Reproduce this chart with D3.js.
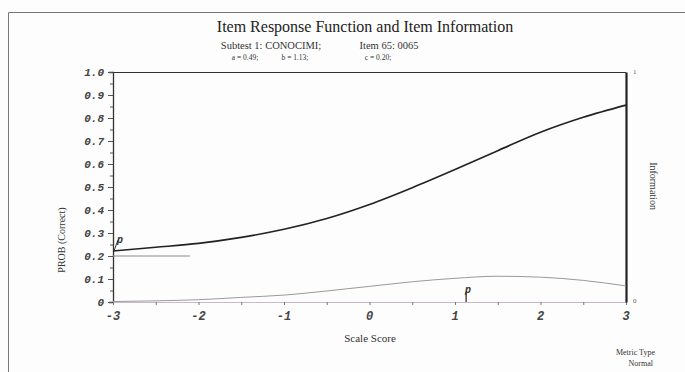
<!DOCTYPE html>
<html>
<head>
<meta charset="utf-8">
<script src="https://cdn.jsdelivr.net/npm/d3@7"></script>
<style>
  body { margin: 0; background: #fdfdfd; }
  svg { display: block; }
</style>
</head>
<body>
<svg id="chart"></svg>
<script>
'use strict';

// values
var theta = [-3, -2.5, -2, -1.5, -1, -0.5, 0, 0.5, 1, 1.5, 2, 2.5, 3];
var probCorrect = [0.222, 0.238, 0.255, 0.281, 0.316, 0.363, 0.424, 0.497, 0.576, 0.658, 0.738, 0.803, 0.856];
var information = [0.002, 0.005, 0.01, 0.02, 0.03, 0.048, 0.068, 0.088, 0.103, 0.112, 0.108, 0.094, 0.07];
var yTicks = ['0', '0.1', '0.2', '0.3', '0.4', '0.5', '0.6', '0.7', '0.8', '0.9', '1.0'];
var xTicks = [-3, -2, -1, 0, 1, 2, 3];
var guessLine = [-3, -2.1];   // lower asymptote, c = 0.20
var cParam = 0.2, bParam = 1.13;

var W = 685, H = 372;
var margin = { top: 72, right: 59, bottom: 70, left: 113 };
var width = W - margin.left - margin.right,
  height = H - margin.top - margin.bottom;

var svgRoot = d3.select('#chart').attr('width', W).attr('height', H);

// outer frame of the scanned page
svgRoot.append('path')
  .attr('d', 'M8.5,' + H + 'V12.5H' + W)
  .attr('fill', 'none')
  .attr('stroke', '#777')
  .attr('stroke-width', 1);

var svg = svgRoot.append('g')
  .attr('transform', 'translate(' + margin.left + ',' + margin.top + ')');

var x = d3.scaleLinear().domain([-3, 3]).range([0, width]);
var y = d3.scaleLinear().domain([0, 1]).range([height, 0]);
var yInfo = d3.scaleLinear().domain([0, 1]).range([height, 0]);

var tickFont = '"Liberation Mono", monospace';
var serif = '"Liberation Serif", "DejaVu Serif", serif';

// titles
svgRoot.append('text')
  .attr('x', 365).attr('y', 32)
  .attr('text-anchor', 'middle')
  .style('font-family', serif).style('font-size', '16px').attr('fill', '#222')
  .text('Item Response Function and Item Information');
svgRoot.append('text')
  .attr('x', 271).attr('y', 49)
  .attr('text-anchor', 'middle')
  .style('font-family', serif).style('font-size', '10.5px').attr('fill', '#333')
  .text('Subtest 1: CONOCIMI;');
svgRoot.append('text')
  .attr('x', 389).attr('y', 49)
  .attr('text-anchor', 'middle')
  .style('font-family', serif).style('font-size', '10.5px').attr('fill', '#333')
  .text('Item 65: 0065');
[['a = 0.49;', 245], ['b = 1.13;', 295], ['c = 0.20;', 378]].forEach(function (p) {
  svgRoot.append('text')
    .attr('x', p[1]).attr('y', 60)
    .attr('text-anchor', 'middle')
    .style('font-family', serif).style('font-size', '7.5px').attr('fill', '#333')
    .text(p[0]);
});

// top border of plot
svg.append('line')
  .attr('x1', 0).attr('x2', width).attr('y1', 0.5).attr('y2', 0.5)
  .attr('stroke', '#333').attr('stroke-width', 1.2);

// left axis
var leftAxis = svg.append('g')
  .call(d3.axisLeft(y).tickValues(d3.range(0, 1.01, 0.05)).tickSize(4).tickFormat(''));
leftAxis.select('.domain').attr('stroke', '#333').attr('stroke-width', 1.3);
leftAxis.selectAll('.tick line').attr('stroke', '#555')
  .attr('x2', function (d, i) { return i % 2 === 0 ? -5 : -3; });
leftAxis.selectAll('.tick text').remove();
yTicks.forEach(function (t) {
  svg.append('text')
    .attr('x', -9).attr('y', y(+t)).attr('dy', '0.35em')
    .attr('text-anchor', 'end')
    .style('font-family', tickFont).style('font-size', '11px')
    .style('font-style', 'italic').style('font-weight', 'bold')
    .attr('fill', '#444')
    .text(t);
});

// bottom axis
var bottomAxis = svg.append('g')
  .attr('transform', 'translate(0,' + height + ')')
  .call(d3.axisBottom(x).tickValues(d3.range(-3, 3.01, 0.5)).tickSize(3).tickFormat(''));
bottomAxis.select('.domain').attr('stroke', '#c9b8c8').attr('stroke-width', 1);
bottomAxis.selectAll('.tick line').attr('stroke', '#777');
xTicks.forEach(function (t) {
  svg.append('text')
    .attr('x', x(t)).attr('y', height + 18)
    .attr('text-anchor', 'middle')
    .style('font-family', tickFont).style('font-size', '12px')
    .style('font-style', 'italic').style('font-weight', 'bold')
    .attr('fill', '#444')
    .text(t);
});

// right axis (information)
var rightAxis = svg.append('g')
  .attr('transform', 'translate(' + width + ',0)')
  .call(d3.axisRight(yInfo).tickValues([0, 1]).tickSize(0).tickFormat(''));
rightAxis.select('.domain').attr('stroke', '#222').attr('stroke-width', 2.2);
svg.append('text')
  .attr('x', width + 7).attr('y', yInfo(1)).attr('dy', '0.35em')
  .style('font-family', serif).style('font-size', '7px').attr('fill', '#555')
  .text('1');
svg.append('text')
  .attr('x', width + 7).attr('y', yInfo(0) - 1).attr('dy', '0.35em')
  .style('font-family', serif).style('font-size', '7px').attr('fill', '#555')
  .text('0');

// lower asymptote
svg.append('line')
  .attr('x1', x(guessLine[0])).attr('x2', x(guessLine[1]))
  .attr('y1', y(cParam)).attr('y2', y(cParam))
  .attr('stroke', '#8a8a8a').attr('stroke-width', 1);

// item information curve
var infoLine = d3.line()
  .x(function (d, i) { return x(theta[i]); })
  .y(function (d) { return yInfo(d); })
  .curve(d3.curveMonotoneX);
svg.append('path')
  .datum(information)
  .attr('fill', 'none')
  .attr('stroke', '#9a9a9a')
  .attr('stroke-width', 1)
  .attr('d', infoLine);

// item response function
var probLine = d3.line()
  .x(function (d, i) { return x(theta[i]); })
  .y(function (d) { return y(d); })
  .curve(d3.curveMonotoneX);
svg.append('path')
  .datum(probCorrect)
  .attr('fill', 'none')
  .attr('stroke', '#222')
  .attr('stroke-width', 1.6)
  .attr('d', probLine);

// markers
svg.append('line')
  .attr('x1', x(-3) + 1).attr('y1', y(probCorrect[0]))
  .attr('x2', x(-3) + 5).attr('y2', y(probCorrect[0]) - 11)
  .attr('stroke', '#333');
svg.append('text')
  .attr('x', x(-3) + 4).attr('y', y(probCorrect[0]) - 8)
  .style('font-family', tickFont).style('font-size', '10px')
  .style('font-style', 'italic').style('font-weight', 'bold').attr('fill', '#333')
  .text('p');
svg.append('line')
  .attr('x1', x(bParam)).attr('x2', x(bParam))
  .attr('y1', height).attr('y2', height - 10)
  .attr('stroke', '#333').attr('stroke-width', 1.3);
svg.append('text')
  .attr('x', x(bParam) + 2).attr('y', height - 9)
  .attr('text-anchor', 'middle')
  .style('font-family', tickFont).style('font-size', '10px')
  .style('font-style', 'italic').style('font-weight', 'bold').attr('fill', '#333')
  .text('p');

// axis titles
svgRoot.append('text')
  .attr('transform', 'translate(65,' + 240 + ') rotate(-90)')
  .attr('text-anchor', 'middle')
  .style('font-family', serif).style('font-size', '10px').attr('fill', '#333')
  .text('PROB (Correct)');
svgRoot.append('text')
  .attr('transform', 'translate(650,' + 186 + ') rotate(90)')
  .attr('text-anchor', 'middle')
  .style('font-family', serif).style('font-size', '10px').attr('fill', '#333')
  .text('Information');
svgRoot.append('text')
  .attr('x', 370).attr('y', 342)
  .attr('text-anchor', 'middle')
  .style('font-family', serif).style('font-size', '11px').attr('fill', '#333')
  .text('Scale Score');
svgRoot.append('text')
  .attr('x', 655).attr('y', 355)
  .attr('text-anchor', 'end')
  .style('font-family', serif).style('font-size', '8px').attr('fill', '#333')
  .text('Metric Type');
svgRoot.append('text')
  .attr('x', 653).attr('y', 366)
  .attr('text-anchor', 'end')
  .style('font-family', serif).style('font-size', '8px').attr('fill', '#333')
  .text('Normal');
</script>
</body>
</html>
